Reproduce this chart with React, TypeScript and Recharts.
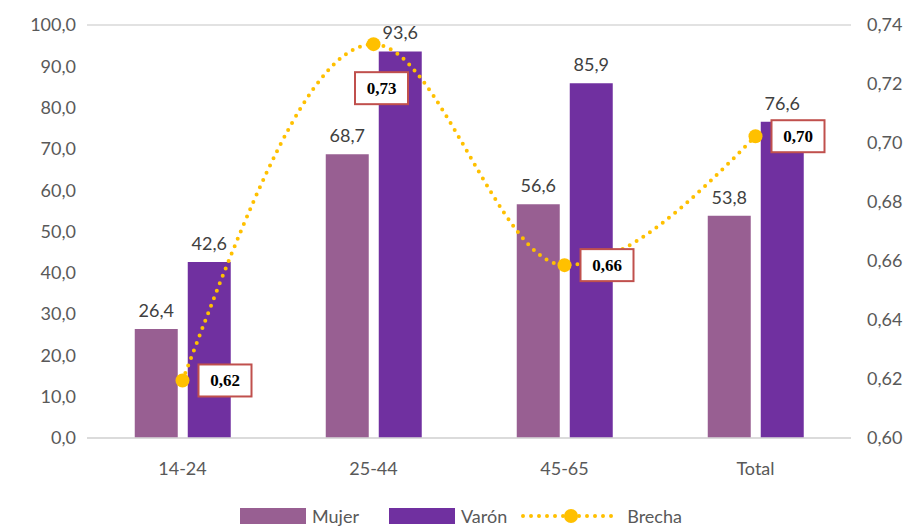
import React from 'react';
import { ComposedChart, Bar, Line, XAxis, YAxis, CartesianGrid, LabelList } from 'recharts';

const categories = ['14-24', '25-44', '45-65', 'Total'];
const mujer = [26.4, 68.7, 56.6, 53.8];
const varon = [42.6, 93.6, 85.9, 76.6];
const brecha = [0.6195, 0.7335, 0.6586, 0.7023];
const leftTicks = [0, 10, 20, 30, 40, 50, 60, 70, 80, 90, 100];
const rightTicks = [0.6, 0.62, 0.64, 0.66, 0.68, 0.7, 0.72, 0.74];

const data = categories.map((c, i) => ({ cat: c, mujer: mujer[i], varon: varon[i], brecha: brecha[i] }));

const C_MUJER = '#985F92';
const C_VARON = '#7030A0';
const C_BRECHA = '#FFC000';
const FONT = 'Lato, "Open Sans", sans-serif';

const fmt1 = (v: any) => Number(v).toFixed(1).replace('.', ',');
const fmt2 = (v: any) => Number(v).toFixed(2).replace('.', ',');

const BrechaLabel = (props: any) => {
  const { x, y, value, index } = props;
  const w = 53, h = 32;
  let cx: number, cy: number;
  if (index === 1) {
    cx = x + 8;
    cy = y + 44;
  } else {
    cx = x + 16 + w / 2;
    cy = y;
  }
  return (
    <g>
      <rect x={cx - w / 2} y={cy - h / 2} width={w} height={h} fill="#FFFFFF" stroke="#C0504D" strokeWidth={2} />
      <text x={cx} y={cy} textAnchor="middle" dominantBaseline="central" fontFamily='"Liberation Serif", serif' fontWeight="bold" fontSize={17} fill="#000">
        {fmt2(value)}
      </text>
    </g>
  );
};

const LegendBox = () => (
  <div style={{ display: 'flex', alignItems: 'center', fontFamily: FONT, fontSize: 18, color: '#595959', position: 'absolute', left: 240, top: 506, whiteSpace: 'nowrap', lineHeight: '20px' }}>
    <span style={{ display: 'inline-block', width: 66, height: 16, background: C_MUJER, marginRight: 6 }} />
    <span style={{ marginRight: 30 }}>Mujer</span>
    <span style={{ display: 'inline-block', width: 66, height: 16, background: C_VARON, marginRight: 6 }} />
    <span style={{ marginRight: 12 }}>Varón</span>
    <svg width={104} height={20} style={{ marginRight: 4 }}>
      <line x1={4} y1={10} x2={100} y2={10} stroke={C_BRECHA} strokeWidth={4} strokeDasharray="0 8" strokeLinecap="round" />
      <circle cx={52} cy={10} r={7} fill={C_BRECHA} />
    </svg>
    <span>Brecha</span>
  </div>
);

export default function App() {
  return (
    <div style={{ position: 'absolute', left: 0, top: 0, width: 918, height: 527, background: '#fff' }}>
      <ComposedChart width={918} height={527} data={data} margin={{ top: 25, right: 0, bottom: 49, left: 0 }} barCategoryGap="25%" barGap={10}>
        <CartesianGrid vertical={false} stroke="#D9D9D9" strokeWidth={1.5} />
        <XAxis dataKey="cat" axisLine={{ stroke: '#D9D9D9', strokeWidth: 1.5 }} tickLine={false} height={40}
          tick={{ fontFamily: FONT, fontSize: 18, fill: '#595959' }} tickMargin={18} />
        <YAxis yAxisId="left" width={87} domain={[0, 100]} ticks={leftTicks} tickFormatter={fmt1}
          axisLine={false} tickLine={false} tick={{ fontFamily: FONT, fontSize: 18, fill: '#595959' }} tickMargin={5} />
        <YAxis yAxisId="right" orientation="right" width={67} domain={[0.6, 0.74]} ticks={rightTicks} tickFormatter={fmt2}
          axisLine={false} tickLine={false} tick={{ fontFamily: FONT, fontSize: 18, fill: '#595959' }} tickMargin={10} />
        <Bar yAxisId="left" dataKey="mujer" name="Mujer" fill={C_MUJER} isAnimationActive={false}>
          <LabelList dataKey="mujer" position="top" offset={12} formatter={fmt1} style={{ fontFamily: FONT, fontSize: 18, fill: '#404040' }} />
        </Bar>
        <Bar yAxisId="left" dataKey="varon" name="Varón" fill={C_VARON} isAnimationActive={false}>
          <LabelList dataKey="varon" position="top" offset={12} formatter={fmt1} style={{ fontFamily: FONT, fontSize: 18, fill: '#404040' }} />
        </Bar>
        <Line yAxisId="right" dataKey="brecha" name="Brecha" type="monotone" stroke={C_BRECHA} strokeWidth={4}
          strokeDasharray="0 8" strokeLinecap="round" dot={{ r: 7, fill: C_BRECHA, stroke: 'none', strokeDasharray: '' } as any}
          activeDot={false} isAnimationActive={false}>
          <LabelList dataKey="brecha" content={<BrechaLabel />} />
        </Line>
      </ComposedChart>
      <LegendBox />
    </div>
  );
}
